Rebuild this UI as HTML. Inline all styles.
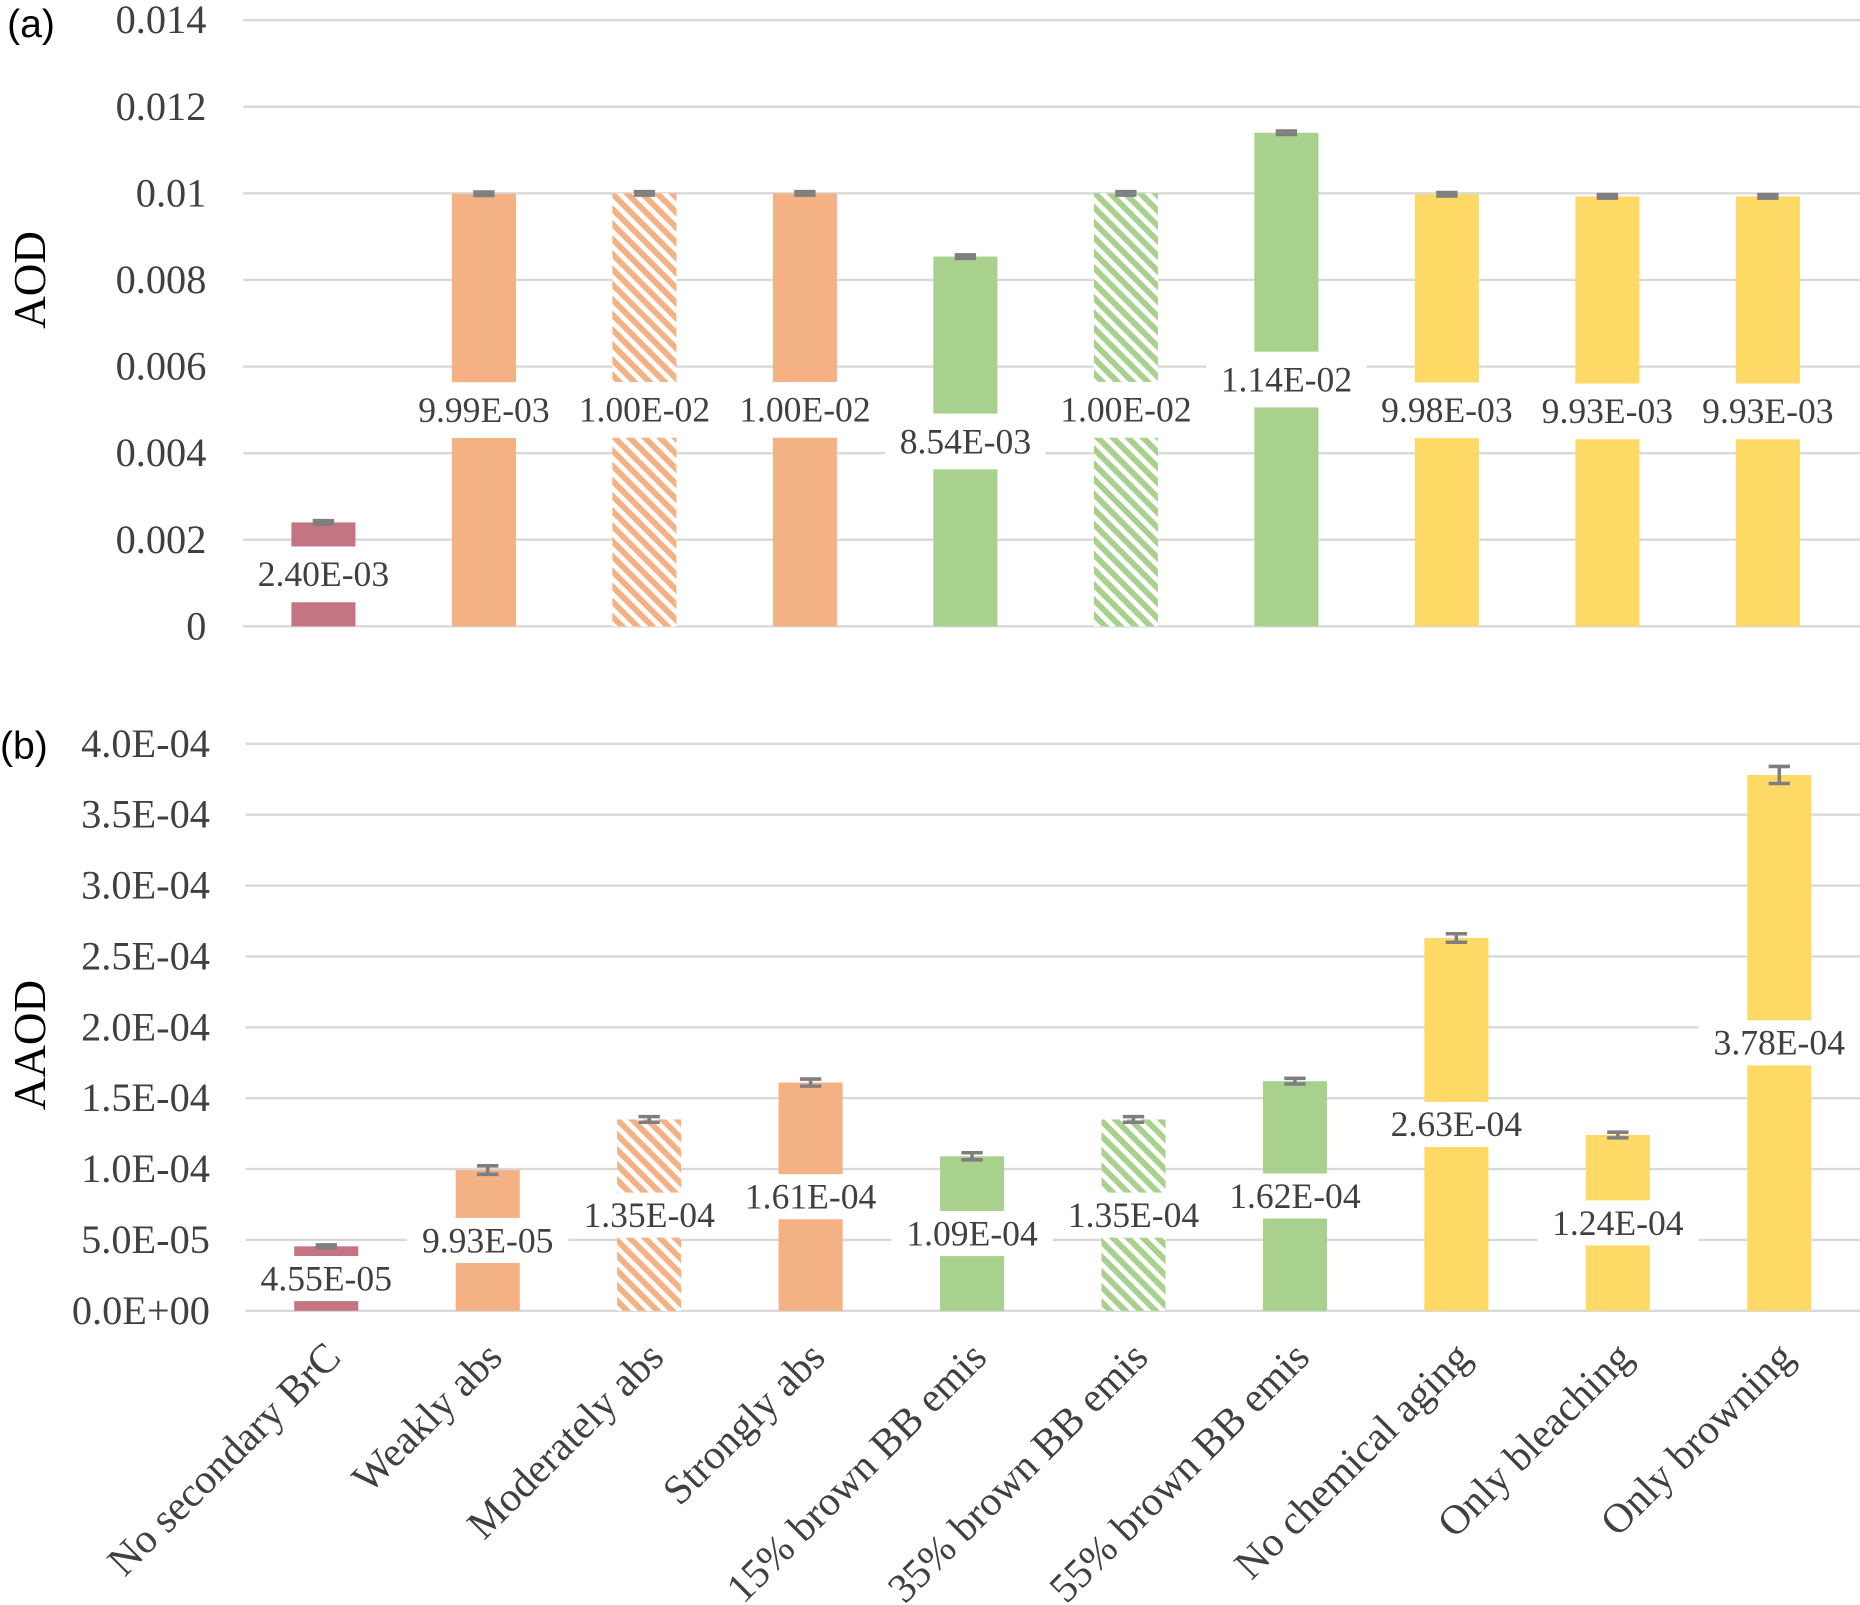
<!DOCTYPE html>
<html><head><meta charset="utf-8"><style>
html,body{margin:0;padding:0;background:#fff;}
svg{display:block;}
text{font-family:"Liberation Serif",serif;fill:#404040;}
</style></head><body>
<svg id="chart" xmlns="http://www.w3.org/2000/svg" width="1860" height="1605" viewBox="0 0 1568 1353" preserveAspectRatio="none">
<defs>
<pattern id="hatch-orange" patternUnits="userSpaceOnUse" width="9" height="9" patternTransform="rotate(-45)">
<rect width="9" height="9" fill="#F4B183"/><rect x="0" y="0" width="4" height="9" fill="#fff"/></pattern>
<pattern id="hatch-green" patternUnits="userSpaceOnUse" width="9" height="9" patternTransform="rotate(-45)">
<rect width="9" height="9" fill="#A9D18E"/><rect x="0" y="0" width="4" height="9" fill="#fff"/></pattern>
</defs>
<g id="layer"></g>
</svg>
<script>
const categories = ["No secondary BrC","Weakly abs","Moderately abs","Strongly abs","15% brown BB emis","35% brown BB emis","55% brown BB emis","No chemical aging","Only bleaching","Only browning"];
const aodValues = [2.40e-3,9.99e-3,1.00e-2,1.00e-2,8.54e-3,1.00e-2,1.14e-2,9.98e-3,9.93e-3,9.93e-3];
const aodLabels = ["2.40E-03","9.99E-03","1.00E-02","1.00E-02","8.54E-03","1.00E-02","1.14E-02","9.98E-03","9.93E-03","9.93E-03"];
const aodErrors = [4e-5,4e-5,4e-5,4e-5,4e-5,4e-5,4e-5,4e-5,4e-5,4e-5];
const aaodValues = [4.55e-5,9.93e-5,1.35e-4,1.61e-4,1.09e-4,1.35e-4,1.62e-4,2.63e-4,1.24e-4,3.78e-4];
const aaodLabels = ["4.55E-05","9.93E-05","1.35E-04","1.61E-04","1.09E-04","1.35E-04","1.62E-04","2.63E-04","1.24E-04","3.78E-04"];
const aaodErrors = [1e-6,3e-6,2e-6,2.5e-6,2.5e-6,2e-6,2e-6,3e-6,2e-6,6e-6];
const aodTicks = [0,0.002,0.004,0.006,0.008,0.01,0.012,0.014];
const aodTickLabels = ["0","0.002","0.004","0.006","0.008","0.01","0.012","0.014"];
const aaodTicks = [0,5e-5,1e-4,1.5e-4,2e-4,2.5e-4,3e-4,3.5e-4,4e-4];
const aaodTickLabels = ["0.0E+00","5.0E-05","1.0E-04","1.5E-04","2.0E-04","2.5E-04","3.0E-04","3.5E-04","4.0E-04"];
const fills = ["#C47482","#F4B183","url(#hatch-orange)","#F4B183","#A9D18E","url(#hatch-green)","#A9D18E","#FFD966","#FFD966","#FFD966"];

const NS="http://www.w3.org/2000/svg";
const layer=document.getElementById('layer');
function mk(tag,attrs,parent){const e=document.createElementNS(NS,tag);for(const k in attrs)e.setAttribute(k,attrs[k]);(parent||layer).appendChild(e);return e;}

function panel(cfg){
  const g=mk('g',{});
  
  
  const catW=(cfg.barRight-cfg.left)/categories.length;
  const y=v=>cfg.y0-(v-cfg.min)/(cfg.max-cfg.min)*(cfg.y0-cfg.yTop);
  const x=i=>cfg.left+catW*(i+0.5);
  cfg.ticks.forEach((t,i)=>{
    const l=mk('line',{x1:cfg.left,x2:cfg.right,y1:y(t),y2:y(t),stroke:'#D9D9D9','stroke-width':2},g);
    
    
    const tx=mk('text',{x:cfg.tickX,y:y(t)+11,'text-anchor':'end','font-size':34},g);
    tx.textContent=cfg.tickLabels[i];
    
    
  });
  cfg.values.forEach((v,i)=>{
    const r=mk('rect',{x:x(i)-27,y:y(v),width:54,height:y(0)-y(v),fill:fills[i]},g);
    
    
  });
  cfg.values.forEach((v,i)=>{
    const e=cfg.errors[i], ya=y(v+e), yb=y(v-e);
    const eg=mk('g',{stroke:'#7F7F7F','stroke-width':3},g);
    
    
    mk('line',{x1:x(i),x2:x(i),y1:ya,y2:yb},eg);
    mk('line',{x1:x(i)-9,x2:x(i)+9,y1:ya,y2:ya},eg);
    mk('line',{x1:x(i)-9,x2:x(i)+9,y1:yb,y2:yb},eg);
  });
  cfg.values.forEach((v,i)=>{
    const mid=(y(v)+y(0))/2;
    const b=mk('rect',{x:x(i)-catW/2,y:mid-cfg.boxH/2,width:catW,height:cfg.boxH,fill:'#fff'},g);
    
    
    const t=mk('text',{x:x(i),y:mid+10,'text-anchor':'middle','font-size':30},g);
    t.textContent=cfg.labels[i];
    
    
  });
  const at=mk('text',{x:0,y:0,'text-anchor':'middle','font-size':38,transform:`translate(${cfg.titleX},${cfg.titleY}) rotate(-90)`},g);
  at.textContent=cfg.title;
  at.style.fill='#000';
  
  
  const pl=mk('text',{x:cfg.tagX,y:cfg.tagY,'font-size':33},g);
  pl.style.fontFamily='"Liberation Sans",sans-serif';pl.style.fill='#000';
  pl.textContent=cfg.tag;
  
  
  return {x};
}

panel({name:'panel-a-aod',left:205,right:1568,barRight:1558,y0:528,yTop:17,min:0,max:0.014,ticks:aodTicks,tickLabels:aodTickLabels,values:aodValues,labels:aodLabels,errors:aodErrors,boxH:47,tickX:174,title:'AOD',titleX:38,titleY:236,tag:'(a)',tagX:6,tagY:31});
const pb=panel({name:'panel-b-aaod',left:207,right:1568,barRight:1568,y0:1105,yTop:627,min:0,max:4e-4,ticks:aaodTicks,tickLabels:aaodTickLabels,values:aaodValues,labels:aaodLabels,errors:aaodErrors,boxH:38,tickX:177,title:'AAOD',titleX:38,titleY:881,tag:'(b)',tagX:0,tagY:640});

categories.forEach((c,i)=>{
  const t=mk('text',{x:0,y:0,'text-anchor':'end','font-size':35,transform:`translate(${pb.x(i)+14},${1146}) rotate(-45)`});
  t.textContent=c;
  
  
});
</script>
</body></html>
